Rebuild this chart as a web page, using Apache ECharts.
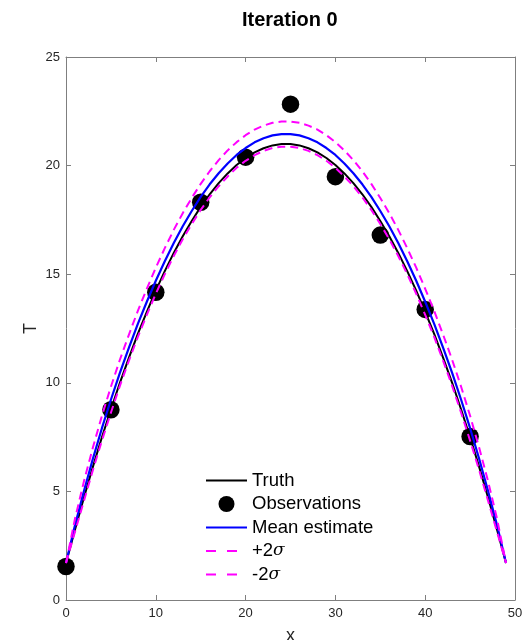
<!DOCTYPE html>
<html>
<head>
<meta charset="utf-8">
<script src="https://cdn.jsdelivr.net/npm/echarts@6/dist/echarts.min.js"></script>
<style>
html,body{margin:0;padding:0;background:#fff;}
#c{width:528px;height:640px;}
</style>
</head>
<body>
<div id="c"></div>
<script>
var xGrid = [0,1,2,3,4,5,6,7,8,9,10,11,12,13,14,15,16,17,18,19,20,21,22,23,24,25,26,27,28,29,30,31,32,33,34,35,36,37,38,39,40,41,42,43,44,45,46,47,48,49];
var truthT = [1.70,3.24,4.72,6.14,7.49,8.77,10.00,11.15,12.25,13.27,14.24,15.14,15.98,16.75,17.45,18.10,18.68,19.19,19.64,20.03,20.35,20.61,20.80,20.93,20.99,
              20.99,20.93,20.80,20.61,20.35,20.03,19.64,19.19,18.68,18.10,17.45,16.75,15.98,15.14,14.24,13.27,12.25,11.15,10.00,8.77,7.49,6.14,4.72,3.24,1.70];
var meanT = [1.70,3.44,5.02,6.51,7.91,9.22,10.46,11.61,12.71,13.73,14.70,15.60,16.44,17.21,17.91,18.56,19.14,19.65,20.10,20.49,20.81,21.07,21.26,21.39,21.45,
             21.45,21.39,21.26,21.07,20.81,20.49,20.10,19.65,19.14,18.56,17.91,17.21,16.44,15.60,14.70,13.73,12.71,11.61,10.46,9.22,7.91,6.51,5.02,3.44,1.70];
var plusT = [1.70,3.74,5.47,7.03,8.48,9.82,11.06,12.21,13.31,14.33,15.30,16.20,17.04,17.81,18.51,19.16,19.74,20.25,20.70,21.08,21.40,21.66,21.84,21.97,22.03,
             22.03,21.97,21.84,21.66,21.40,21.08,20.70,20.25,19.74,19.16,18.51,17.81,17.04,16.20,15.30,14.33,13.31,12.21,11.06,9.82,8.48,7.03,5.47,3.74,1.70];
var minusT = [1.70,3.14,4.57,5.99,7.34,8.62,9.86,11.01,12.11,13.13,14.10,15.00,15.84,16.61,17.31,17.96,18.54,19.05,19.50,19.90,20.22,20.48,20.68,20.81,20.87,
              20.87,20.81,20.68,20.48,20.22,19.90,19.50,19.05,18.54,17.96,17.31,16.61,15.84,15.00,14.10,13.13,12.11,11.01,9.86,8.62,7.34,5.99,4.57,3.14,1.70];
var obsX = [0,5,10,15,20,25,30,35,40,45];
var obsT = [1.54,8.76,14.17,18.31,20.39,22.83,19.49,16.80,13.38,7.53];
var seriesNames = ['Truth','Observations','Mean estimate','+2σ','-2σ'];
var titleText = 'Iteration 0';
var xName = 'x';
var yName = 'T';

function pairs(xs, ys){ return ys.map(function(v,i){ return [xs[i], v]; }); }

var FONT = '"Liberation Sans", Arial, Helvetica, sans-serif';
var AX = '#7f7f7f';
var TXT = '#262626';

function axisCommon(extra){
  var o = {
    axisLine:{show:true, onZero:false, lineStyle:{color:AX, width:1}},
    axisTick:{show:true, inside:true, length:5, lineStyle:{color:AX, width:1}},
    splitLine:{show:false},
    nameMoveOverlap:false,
    axisLabel:{color:TXT, fontSize:13, fontFamily:FONT}
  };
  for (var k in extra) o[k] = extra[k];
  return o;
}

var hideSym = {opacity:0};

var chart = echarts.init(document.getElementById('c'), null, {renderer:'canvas'});
chart.setOption({
  animation:false,
  backgroundColor:'#fff',
  title:{
    text:titleText, left:237, top:5,
    textStyle:{fontFamily:FONT, fontWeight:'bold', fontSize:20, color:'#000'}
  },
  grid:{left:66, right:13, top:57, bottom:40, containLabel:false, outerBoundsMode:'none'},
  xAxis:[
    axisCommon({type:'value', min:0, max:50, interval:10, position:'bottom',
      name:xName, nameLocation:'middle', nameGap:27,
      nameTextStyle:{fontFamily:FONT, fontSize:18, color:TXT},
      axisLabel:{color:TXT, fontSize:13, fontFamily:FONT, margin:7}}),
    axisCommon({type:'value', min:0, max:50, interval:10, position:'top',
      axisLabel:{show:false}})
  ],
  yAxis:[
    axisCommon({type:'value', min:0, max:25, interval:5, position:'left',
      name:yName, nameLocation:'middle', nameGap:26, nameRotate:90,
      nameTextStyle:{fontFamily:FONT, fontSize:18, color:TXT},
      axisLabel:{color:TXT, fontSize:13, fontFamily:FONT, margin:6}}),
    axisCommon({type:'value', min:0, max:25, interval:5, position:'right',
      axisLabel:{show:false}})
  ],
  legend:{
    orient:'vertical', left:205, top:471, padding:0,
    itemWidth:41, itemHeight:16, itemGap:4.5,
    textStyle:{fontFamily:FONT, fontSize:18.5, color:'#000', lineHeight:16,
      rich:{s:{fontFamily:'"DejaVu Serif", serif', fontStyle:'italic', fontSize:17, color:'#000', lineHeight:16}}},
    formatter:function(n){
      if (n === '+2σ') return '+2{s|σ}';
      if (n === '-2σ') return '-2{s|σ}';
      return n;
    },
    data:[
      {name:seriesNames[0], itemStyle:hideSym},
      {name:seriesNames[1], icon:'circle', itemStyle:{opacity:1}},
      {name:seriesNames[2], itemStyle:hideSym},
      {name:seriesNames[3], itemStyle:hideSym, lineStyle:{type:[10,11]}},
      {name:seriesNames[4], itemStyle:hideSym, lineStyle:{type:[10,11]}}
    ],
    selectedMode:false
  },
  series:[
    {name:seriesNames[0], type:'line', symbol:'none', data:pairs(xGrid, truthT),
      lineStyle:{color:'#000', width:2}, itemStyle:{color:'#000'}, z:2},
    {name:seriesNames[1], type:'scatter', symbol:'circle', symbolSize:17.5, data:pairs(obsX, obsT),
      itemStyle:{color:'#000', opacity:1}, z:3},
    {name:seriesNames[2], type:'line', symbol:'none', data:pairs(xGrid, meanT),
      lineStyle:{color:'#0000ff', width:2.2}, itemStyle:{color:'#0000ff'}, z:4},
    {name:seriesNames[3], type:'line', symbol:'none', data:pairs(xGrid, plusT),
      lineStyle:{color:'#ff00ff', width:2, type:[8,5]}, itemStyle:{color:'#ff00ff'}, z:5},
    {name:seriesNames[4], type:'line', symbol:'none', data:pairs(xGrid, minusT),
      lineStyle:{color:'#ff00ff', width:2, type:[8,5]}, itemStyle:{color:'#ff00ff'}, z:6}
  ]
});
</script>
</body>
</html>
